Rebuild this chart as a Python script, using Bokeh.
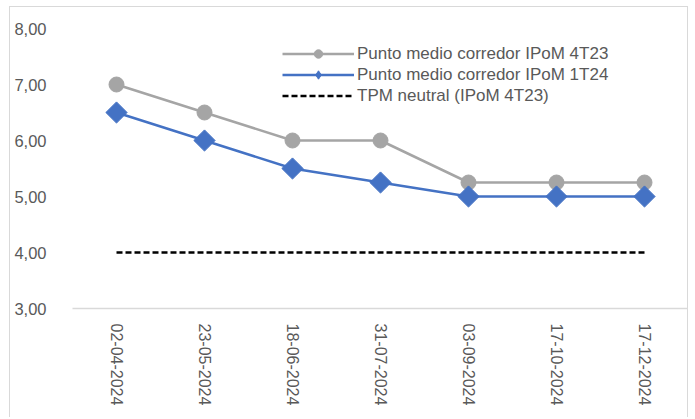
import math
from bokeh.plotting import figure
from bokeh.models import ColumnDataSource, Legend, LegendItem, FixedTicker, CustomJSTickFormatter, Range1d
from bokeh.embed import file_html
from bokeh.resources import INLINE

fechas = ["02-04-2024", "23-05-2024", "18-06-2024", "31-07-2024", "03-09-2024", "17-10-2024", "17-12-2024"]
ipom_4t23 = [7.00, 6.50, 6.00, 6.00, 5.25, 5.25, 5.25]
ipom_1t24 = [6.50, 6.00, 5.50, 5.25, 5.00, 5.00, 5.00]
tpm_neutral = [4.00, 4.00, 4.00, 4.00, 4.00, 4.00, 4.00]
y_ticks = [3, 4, 5, 6, 7, 8]

labels = ["Punto medio corredor IPoM 4T23", "Punto medio corredor IPoM 1T24", "TPM neutral (IPoM 4T23)"]

FONT = "Liberation Sans"
TXT = "#595959"
GRAY = "#A5A5A5"
BLUE = "#4472C4"

src = ColumnDataSource(dict(x=fechas, a=ipom_4t23, b=ipom_1t24, n=tpm_neutral))

p = figure(x_range=fechas, y_range=Range1d(3, 8), width=679, height=411,
           output_backend="svg", toolbar_location=None,
           min_border_left=62, min_border_right=1, min_border_top=21, min_border_bottom=110)
p.margin = (6, 0, 0, 9)
p.styles = {"border-left": "1px solid #D9D9D9", "border-top": "1px solid #D9D9D9",
            "border-right": "1px solid #D9D9D9"}
p.outline_line_color = None
p.xgrid.grid_line_color = None
p.ygrid.grid_line_color = None
p.x_range.range_padding = 0

l1 = p.line("x", "a", source=src, line_color=GRAY, line_width=2.5)
m1 = p.scatter("x", "a", source=src, marker="circle", size=15, fill_color=GRAY, line_color=GRAY)
l2 = p.line("x", "b", source=src, line_color=BLUE, line_width=2.5)
m2 = p.scatter("x", "b", source=src, marker="square", angle=math.pi / 4, size=15,
               fill_color=BLUE, line_color=BLUE)
l3 = p.line("x", "n", source=src, line_color="black", line_width=2.5, line_dash="6 3")

# legend-only proxy for the diamond marker
m2_leg = p.scatter("x", "b", source=src, marker="diamond", size=15,
                   fill_color=BLUE, line_color=BLUE, visible=False)

# y axis
p.yaxis.ticker = FixedTicker(ticks=y_ticks)
p.yaxis.formatter = CustomJSTickFormatter(code="return tick.toFixed(2).replace('.', ',');")
p.yaxis.axis_line_color = None
p.yaxis.major_tick_line_color = None
p.yaxis.minor_tick_line_color = None
p.yaxis.major_label_standoff = 20
p.yaxis.major_label_text_font = FONT
p.yaxis.major_label_text_font_size = "16.5px"
p.yaxis.major_label_text_color = TXT

# x axis
p.xaxis.axis_line_color = "#D9D9D9"
p.xaxis.axis_line_width = 1.5
p.xaxis.major_tick_line_color = None
p.xaxis.minor_tick_line_color = None
p.xaxis.major_label_orientation = "vertical"
p.xaxis.major_label_standoff = 9
p.xaxis.major_label_text_font = FONT
p.xaxis.major_label_text_font_size = "16px"
p.xaxis.major_label_text_color = TXT

legend = Legend(items=[LegendItem(label=labels[0], renderers=[l1, m1]),
                       LegendItem(label=labels[1], renderers=[l2, m2_leg]),
                       LegendItem(label=labels[2], renderers=[l3])],
                location=(210, 202))
legend.border_line_color = None
legend.background_fill_alpha = 0
legend.padding = 0
legend.margin = 0
legend.spacing = 0
legend.glyph_width = 72
legend.glyph_height = 21
legend.label_height = 21
legend.label_standoff = 3
legend.label_text_font = FONT
legend.label_text_font_size = "17px"
legend.label_text_color = TXT
p.add_layout(legend)

open("out.html", "w").write(file_html(p, INLINE))
